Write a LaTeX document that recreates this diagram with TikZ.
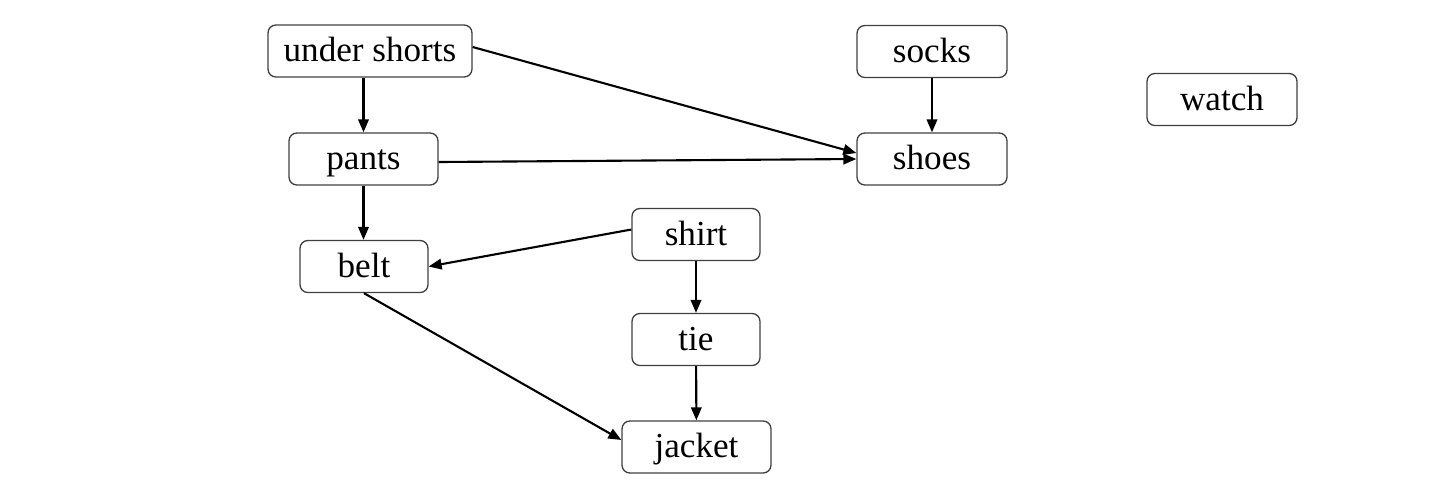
\documentclass[tikz,border=0pt]{standalone}
\usepackage{fontspec}
\setmainfont{Liberation Serif}
\usepackage{tikz}
\usetikzlibrary{arrows.meta,positioning}

\begin{document}
\begin{tikzpicture}[
    box/.style={
        rectangle, draw=black!75, rounded corners=4.5pt, line width=0.75pt,
        minimum width=#1, minimum height=1.04cm, inner sep=0pt,
        text height=14pt, text depth=1.5pt,
        align=center, font=\fontsize{20}{24}\selectfont,
    },
    box/.default=2.56cm,
    arr/.style={-{Triangle[length=2.6mm,width=2.1mm]}, line width=1.2pt},
]

\useasboundingbox (0,0) rectangle (29.12,-9.8);

% left column
\node[box=4.08cm] (shorts) at (7.40, -1.02) {under shorts};
\node[box=2.98cm] (pants) at (7.27, -3.18) {pants};
\node[box] (belt) at (7.28, -5.33) {belt};

% middle column
\node[box] (shirt) at (13.92, -4.69) {shirt};
\node[box] (tie) at (13.92, -6.79) {tie};
\node[box=2.98cm] (jacket) at (13.93, -8.94) {jacket};

% right
\node[box=3.0cm] (socks) at (18.64, -1.03) {socks};
\node[box=3.0cm] (shoes) at (18.64, -3.18) {shoes};
\node[box=3.0cm] (watch) at (24.44, -1.99) {watch};

\draw[arr] (pants.north |- shorts.south) -- (pants.north);
\draw[arr] ([yshift=0.08cm]shorts.east) -- ([yshift=0.12cm]shoes.west);
\draw[arr] ([yshift=-0.06cm]pants.east) -- (shoes.west);
\draw[arr] (pants.south) -- (pants.south |- belt.north);
\draw[arr] ([yshift=0.1cm]shirt.west) -- (belt.east);
\draw[arr] (belt.south) -- ([yshift=0.14cm]jacket.west);
\draw[arr] (shirt) -- (tie);
\draw[arr] (tie) -- (jacket);
\draw[arr] (socks) -- (shoes);

\end{tikzpicture}
\end{document}
